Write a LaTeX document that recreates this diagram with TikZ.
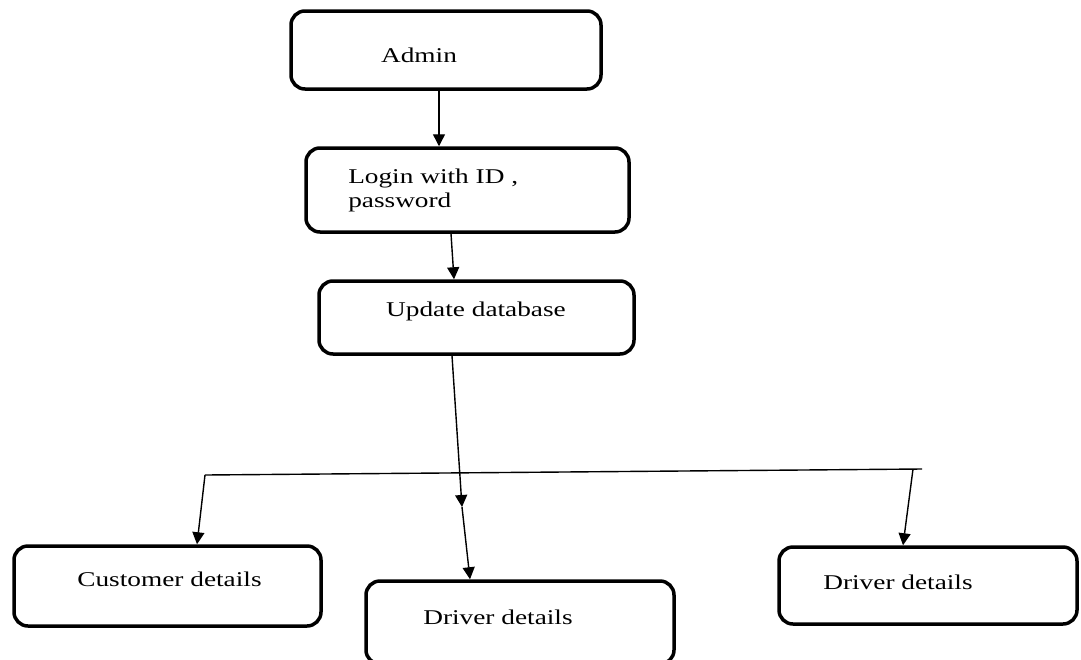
\documentclass[tikz,border=0pt]{standalone}
\usepackage{fontspec}
\setmainfont{Liberation Serif}
\usetikzlibrary{arrows.meta}
\tikzset{
  box/.style={draw, line width=3.5pt, rounded corners=14pt, inner sep=0pt},
  txt/.style={font=\fontsize{21}{24}\selectfont, xscale=1.3, inner sep=0pt, anchor=base},
  arr/.style={line width=1.4pt, -{Triangle[length=12pt,width=12pt]}},
}
\begin{document}
\begin{tikzpicture}[x=1pt,y=-1pt]
\useasboundingbox (0,0) rectangle (1081,659);
\clip (0,0) rectangle (1081,659);
% boxes
\node[box, minimum width=310pt, minimum height=78pt] (admin) at (446,50) {};
\node[box, minimum width=323pt, minimum height=84pt] (login) at (467.5,190) {};
\node[box, minimum width=315pt, minimum height=73pt] (upd) at (476.5,317.5) {};
\node[box, minimum width=307pt, minimum height=80pt] (cust) at (167.5,586) {};
\node[box, minimum width=308pt, minimum height=83pt] (drv) at (520,622.5) {};
\node[box, minimum width=298pt, minimum height=77pt] (drvr) at (928,585.5) {};
% texts
\node[txt] (tadmin) at (419,62) {Admin};
\node[txt, anchor=base west, align=left] (tlogin) at (348,207) {Login with ID ,\\password};
\node[txt] (tupd) at (476,316) {Update database};
\node[txt] (tcust) at (169.5,586) {Customer details};
\node[txt] (tdrv) at (498,624) {Driver details};
\node[txt] (tdrvr) at (898,589) {Driver details};
% arrows
\draw[arr] ([xshift=-7pt]admin.south) -- ([xshift=-28.5pt]login.north);
\draw[arr] ([xshift=-16.5pt]login.south) -- ([xshift=-22.5pt]upd.north);
\coordinate (mid) at (462,507);
\draw[arr] ([xshift=-24.5pt]upd.south) -- (mid);
\draw[arr] (mid) -- ([xshift=-50pt]drv.north);
%\draw (205,475) -- (920,468);
\coordinate (bl) at (205,475);
\coordinate (br) at (922,469);
\coordinate (bt) at (913,469.1);
\draw[line width=1.4pt] (bl) -- (br);
\draw[arr] (bl) -- ([xshift=29.5pt]cust.north);
\draw[arr] (bt) -- ([xshift=-25pt]drvr.north);
\end{tikzpicture}
\end{document}
